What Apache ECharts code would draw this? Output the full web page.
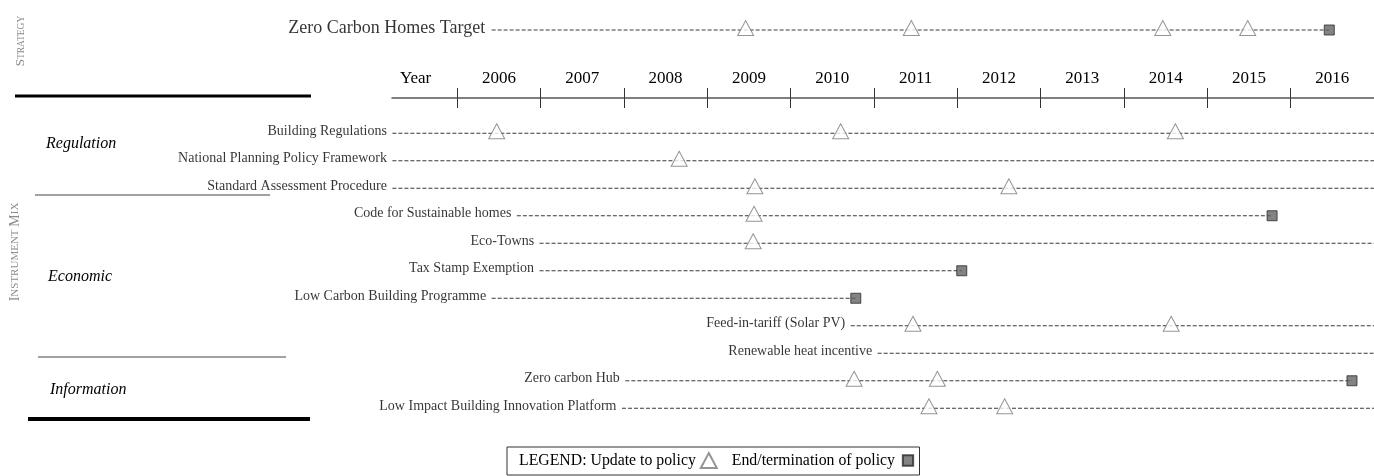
<!DOCTYPE html>
<html>
<head>
<meta charset="utf-8">
<script src="https://cdn.jsdelivr.net/npm/echarts@6/dist/echarts.min.js"></script>
<style>
  html, body { margin: 0; padding: 0; background: #fff; }
  #chart { width: 1374px; height: 476px; }
</style>
</head>
<body>
<div id="chart"></div>
<script>
// year scale: 2006 starts at x=458 on the page, one year is ~84.1px wide
const YEAR_PX = 84.1;
const X_MIN = 2006 - 458 / YEAR_PX;
const X_MAX = 2006 + (1374 - 458) / YEAR_PX;

const yearLabels = ["Year", "2006", "2007", "2008", "2009", "2010", "2011", "2012", "2013", "2014", "2015", "2016"];

const strategyName = "Zero Carbon Homes Target";
const strategyStart = 2006.40;
const strategyUpdates = [2009.42, 2011.39, 2014.38, 2015.39];
const strategyEnd = 2016.36;

const policies = [
  "Building Regulations",
  "National Planning Policy Framework",
  "Standard Assessment Procedure",
  "Code for Sustainable homes",
  "Eco-Towns",
  "Tax Stamp Exemption",
  "Low Carbon Building Programme",
  "Feed-in-tariff (Solar PV)",
  "Renewable heat incentive",
  "Zero carbon Hub",
  "Low Impact Building Innovation Platform",
];
// 2017 = still running past the edge of the chart
const policyStart = [2005.22, 2005.22, 2005.22, 2006.70, 2006.97, 2006.97, 2006.40, 2010.67, 2010.99, 2007.99, 2007.95];
const policyEnd = [2017, 2017, 2017, 2015.68, 2017, 2011.99, 2010.73, 2017, 2017, 2016.63, 2017];
const policyUpdates = [
  [2006.46, 2010.55, 2014.53],
  [2008.63],
  [2009.53, 2012.55],
  [2009.52],
  [2009.51],
  [],
  [],
  [2011.41, 2014.48],
  [],
  [2010.71, 2011.70],
  [2011.60, 2012.50],
];
const policyTerminated = [false, false, false, true, false, true, true, false, false, true, false];

const SERIF = '"Liberation Serif", "DejaVu Serif", serif';
const UPDATE = "Update to policy";
const ENDED = "End/termination of policy";

const dashStyle = { color: "#3a3a3a", width: 1, type: [4, 2] };
const triangleStyle = { color: "#fff", borderColor: "#7a7a7a", borderWidth: 1 };
const squareStyle = { color: "#646464", borderColor: "#2a2a2a", borderWidth: 1 };
// square drawn inside a 16x16 box, so the legend keeps it smaller than the triangle
const SQUARE_ICON = "path://M0,0L0.01,0ZM2.5,2.5h11v11h-11zM16,16L16.01,16Z";

function buildSeries() {
  const series = [];
  // strategy row
  series.push({
    type: "line", xAxisIndex: 0, yAxisIndex: 0, symbol: "none", silent: true,
    lineStyle: dashStyle, data: [[strategyStart, strategyName], [strategyEnd, strategyName]],
  });
  series.push({
    type: "scatter", xAxisIndex: 0, yAxisIndex: 0, silent: true,
    symbolSize: 1, itemStyle: { color: "transparent" },
    label: { show: true, position: "left", distance: 6, offset: [0, -2], formatter: (p) => p.value[1],
      fontFamily: SERIF, fontSize: 18, color: "#000" },
    data: [[strategyStart, strategyName]],
  });
  series.push({
    name: UPDATE, type: "scatter", xAxisIndex: 0, yAxisIndex: 0, z: 4,
    symbol: "triangle", symbolSize: [16, 15], symbolOffset: [0, -2], itemStyle: triangleStyle,
    data: strategyUpdates.map((x) => [x, strategyName]),
  });
  series.push({
    name: ENDED, type: "scatter", xAxisIndex: 0, yAxisIndex: 0, z: 4,
    symbol: "rect", symbolSize: 10, itemStyle: squareStyle,
    data: [[strategyEnd, strategyName]],
  });

  // instrument mix rows
  policies.forEach((name, i) => {
    series.push({
      type: "line", xAxisIndex: 1, yAxisIndex: 1, symbol: "none", silent: true,
      lineStyle: dashStyle, data: [[policyStart[i], name], [policyEnd[i], name]],
    });
  });
  series.push({
    type: "scatter", xAxisIndex: 1, yAxisIndex: 1, silent: true,
    symbolSize: 1, itemStyle: { color: "transparent" },
    label: { show: true, position: "left", distance: 5, offset: [0, -2], formatter: (p) => p.value[1],
      fontFamily: SERIF, fontSize: 14, color: "#000" },
    data: policies.map((name, i) => [policyStart[i], name]),
  });
  const updates = [];
  policies.forEach((name, i) => policyUpdates[i].forEach((x) => updates.push([x, name])));
  series.push({
    name: UPDATE, type: "scatter", xAxisIndex: 1, yAxisIndex: 1, z: 4,
    symbol: "triangle", symbolSize: [16, 15], symbolOffset: [0, -2], itemStyle: triangleStyle,
    data: updates,
  });
  series.push({
    name: ENDED, type: "scatter", xAxisIndex: 1, yAxisIndex: 1, z: 4,
    symbol: "rect", symbolSize: 10, itemStyle: squareStyle,
    data: policies.filter((_, i) => policyTerminated[i]).map((name) => [policyEnd[policies.indexOf(name)], name]),
  });
  return series;
}

function smallCaps(word) {
  return word.split(" ").map((w) => `{a|${w[0]}}{b|${w.slice(1)}}`).join("{b| }");
}

function sideText(text, x, y, big, small) {
  return {
    type: "text", x, y, rotation: Math.PI / 2,
    style: {
      text: smallCaps(text), align: "center", verticalAlign: "middle", fill: "#8c8c8c",
      rich: {
        a: { fontFamily: SERIF, fontSize: big, fill: "#8c8c8c" },
        b: { fontFamily: SERIF, fontSize: small, fill: "#8c8c8c" },
      },
    },
  };
}

function groupText(text, x, y) {
  return {
    type: "text", x, y,
    style: { text, font: `italic 16px ${SERIF}`, fill: "#000", verticalAlign: "middle" },
  };
}

function rule(x1, x2, y, width, color) {
  return { type: "line", shape: { x1, y1: y, x2, y2: y }, style: { stroke: color, lineWidth: width } };
}

const chart = echarts.init(document.getElementById("chart"));
const tickEvery = (index) => index > 0;

chart.setOption({
  animation: false,
  backgroundColor: "#fff",
  grid: [
    { left: 0, right: 0, top: 16, height: 28 },
    { left: 0, right: 0, top: 119.5, height: 302.5 },
    { left: 458 - YEAR_PX, width: YEAR_PX * 12, top: 98, height: 10 },
    { left: 392, right: 0, top: 98, height: 1 },
  ],
  xAxis: [
    { gridIndex: 0, type: "value", min: X_MIN, max: X_MAX, show: false },
    { gridIndex: 1, type: "value", min: X_MIN, max: X_MAX, show: false },
    {
      gridIndex: 2, type: "category", position: "top", data: yearLabels, boundaryGap: true,
      axisLine: { show: false, onZero: false },
      axisTick: { show: true, length: 10, interval: tickEvery, lineStyle: { color: "#333" } },
      splitLine: { show: true, interval: tickEvery, lineStyle: { color: "#333" } },
      axisLabel: { interval: 0, margin: 11, fontFamily: SERIF, fontSize: 17, color: "#000" },
    },
    {
      gridIndex: 3, type: "value", position: "top", min: 0, max: 1,
      axisLine: { show: true, onZero: false, lineStyle: { color: "#555", width: 1.5 } },
      axisTick: { show: false }, axisLabel: { show: false }, splitLine: { show: false },
    },
  ],
  yAxis: [
    { gridIndex: 0, type: "category", data: [strategyName], show: false },
    { gridIndex: 1, type: "category", data: policies, inverse: true, show: false },
    { gridIndex: 2, type: "value", min: 0, max: 1, show: false },
    { gridIndex: 3, type: "value", min: 0, max: 1, show: false },
  ],
  legend: {
    left: 507, top: 447, selectedMode: false, align: "right",
    padding: [5, 3, 6, 12], itemGap: 14, itemWidth: 16, itemHeight: 15,
    borderColor: "#333", borderWidth: 1,
    textStyle: { fontFamily: SERIF, fontSize: 15.8, color: "#000" },
    data: [{ name: UPDATE, icon: "triangle" }, { name: ENDED, icon: SQUARE_ICON }],
    formatter: (name) => (name === UPDATE ? "LEGEND: " + name : name),
  },
  graphic: [
    sideText("STRATEGY", 21, 41, 13, 9.5),
    sideText("INSTRUMENT MIX", 15, 252, 14, 11),
    rule(15, 311, 96, 3, "#000"),
    rule(35, 270, 195, 1, "#444"),
    rule(38, 286, 357, 1, "#444"),
    rule(28, 310, 419, 4, "#000"),
    groupText("Regulation", 46, 144),
    groupText("Economic", 48, 277),
    groupText("Information", 50, 390),
  ],
  series: buildSeries(),
});
</script>
</body>
</html>
